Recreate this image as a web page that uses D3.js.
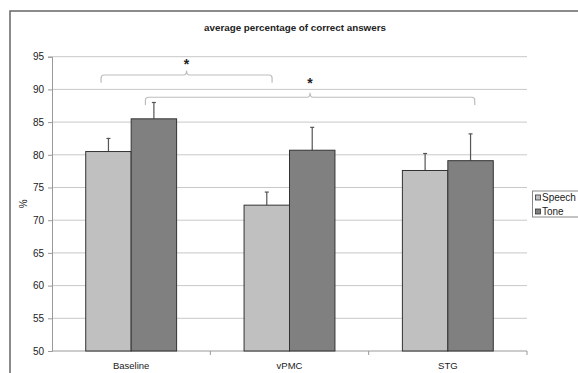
<!DOCTYPE html>
<html>
<head>
<meta charset="utf-8">
<script src="https://cdn.jsdelivr.net/npm/d3@7"></script>
<style>
    body { margin: 0; background: #fff; }
    svg text { font-family: Arial, "Liberation Sans", sans-serif; fill: #222; }
</style>
</head>
<body>
<script>
(function(){

    //chart data
    var categories = ["Baseline", "vPMC", "STG"];
    var seriesNames = ["Speech", "Tone"];
    var speechValues = [80.5, 72.3, 77.6];
    var speechErrTop = [82.5, 74.3, 80.2];
    var toneValues = [85.5, 80.7, 79.1];
    var toneErrTop = [88.0, 84.2, 83.2];
    var yTicks = [50, 55, 60, 65, 70, 75, 80, 85, 90, 95];

    //significance brackets: start/end in category units, bar level, tip level
    var bracketFrom = [-0.19, 0.09];
    var bracketTo = [0.89, 2.17];
    var bracketLevel = [92.2, 88.8];
    var bracketEnd = [91.0, 87.6];
    var starLevel = [94.0, 91.2];

    var colors = { "Speech": "#c0c0c0", "Tone": "#808080" };

    window.onload = setChart();

    function setChart(){
        var width = 578, height = 373;

        var svg = d3.select("body")
            .append("svg")
            .attr("width", width)
            .attr("height", height);

        //outer chart frame (cut off at right and bottom)
        svg.append("rect")
            .attr("x", 10)
            .attr("y", 11)
            .attr("width", 620)
            .attr("height", 420)
            .attr("fill", "none")
            .attr("stroke", "#666")
            .attr("stroke-width", 1.5);

        //title
        svg.append("text")
            .attr("x", 295)
            .attr("y", 31)
            .attr("text-anchor", "middle")
            .style("font-size", "9.8px")
            .style("font-weight", "bold")
            .text("average percentage of correct answers");

        var plotLeft = 52, plotRight = 527, plotTop = 56.7, plotBottom = 351;

        var y = d3.scaleLinear()
            .domain([50, 95])
            .range([plotBottom, plotTop]);

        var x0 = d3.scaleBand()
            .domain(categories)
            .range([plotLeft, plotRight]);

        var bw = x0.bandwidth();
        var x1 = d3.scaleBand()
            .domain(seriesNames)
            .range([bw * 0.213, bw * 0.787]);

        //category index scale for annotations
        var xi = d3.scaleLinear()
            .domain([0, 1])
            .range([x0(categories[0]) + bw / 2, x0(categories[1]) + bw / 2]);

        //gridlines
        svg.append("g")
            .selectAll("line")
            .data(yTicks.slice(1))
            .enter()
            .append("line")
            .attr("x1", plotLeft)
            .attr("x2", plotRight)
            .attr("y1", function(d){ return y(d); })
            .attr("y2", function(d){ return y(d); })
            .attr("stroke", "#c8c8c8")
            .attr("stroke-width", 1);

        //y axis
        var yAxis = svg.append("g")
            .attr("transform", "translate(" + plotLeft + ",0)")
            .call(d3.axisLeft(y).tickValues(yTicks).tickSize(4).tickPadding(4));
        yAxis.select(".domain").attr("stroke", "#999");
        yAxis.selectAll(".tick line").attr("stroke", "#999");
        yAxis.selectAll("text")
            .style("font-size", "10px")
            .attr("fill", "#222");

        //y axis title
        svg.append("text")
            .attr("transform", "translate(27," + ((plotTop + plotBottom) / 2) + ") rotate(-90)")
            .attr("text-anchor", "middle")
            .style("font-size", "10px")
            .text("%");

        //x axis line and category ticks
        svg.append("line")
            .attr("x1", plotLeft)
            .attr("x2", plotRight)
            .attr("y1", plotBottom)
            .attr("y2", plotBottom)
            .attr("stroke", "#999");

        svg.append("g")
            .selectAll("line")
            .data(categories.slice(1).concat(["end"]))
            .enter()
            .append("line")
            .attr("x1", function(d, i){ return plotLeft + bw * (i + 1); })
            .attr("x2", function(d, i){ return plotLeft + bw * (i + 1); })
            .attr("y1", plotBottom)
            .attr("y2", plotBottom + 4)
            .attr("stroke", "#999");

        svg.append("g")
            .selectAll("text")
            .data(categories)
            .enter()
            .append("text")
            .attr("x", function(d){ return x0(d) + bw / 2; })
            .attr("y", 369)
            .attr("text-anchor", "middle")
            .style("font-size", "9.5px")
            .text(function(d){ return d; });

        //build bar records
        var bars = [];
        categories.forEach(function(c, i){
            bars.push({ cat: c, series: "Speech", value: speechValues[i], err: speechErrTop[i] });
            bars.push({ cat: c, series: "Tone", value: toneValues[i], err: toneErrTop[i] });
        });

        //error bars (upper only)
        var errs = svg.append("g")
            .selectAll("g")
            .data(bars)
            .enter()
            .append("g");

        errs.append("line")
            .attr("x1", function(d){ return x0(d.cat) + x1(d.series) + x1.bandwidth() / 2; })
            .attr("x2", function(d){ return x0(d.cat) + x1(d.series) + x1.bandwidth() / 2; })
            .attr("y1", function(d){ return y(d.value); })
            .attr("y2", function(d){ return y(d.err); })
            .attr("stroke", "#555")
            .attr("stroke-width", 1.2);

        errs.append("line")
            .attr("x1", function(d){ return x0(d.cat) + x1(d.series) + x1.bandwidth() / 2 - 2; })
            .attr("x2", function(d){ return x0(d.cat) + x1(d.series) + x1.bandwidth() / 2 + 2; })
            .attr("y1", function(d){ return y(d.err); })
            .attr("y2", function(d){ return y(d.err); })
            .attr("stroke", "#555")
            .attr("stroke-width", 1.2);

        //bars
        svg.append("g")
            .selectAll("rect")
            .data(bars)
            .enter()
            .append("rect")
            .attr("x", function(d){ return x0(d.cat) + x1(d.series); })
            .attr("y", function(d){ return y(d.value); })
            .attr("width", x1.bandwidth())
            .attr("height", function(d){ return y(50) - y(d.value); })
            .attr("fill", function(d){ return colors[d.series]; })
            .attr("stroke", "#333")
            .attr("stroke-width", 1);

        //significance brackets
        bracketFrom.forEach(function(f, i){
            var xa = xi(f), xb = xi(bracketTo[i]), xm = (xa + xb) / 2;
            var yl = y(bracketLevel[i]), ye = y(bracketEnd[i]);
            var p = d3.path();
            p.moveTo(xa, ye);
            p.lineTo(xa, yl + 3);
            p.quadraticCurveTo(xa, yl, xa + 3, yl);
            p.lineTo(xm - 3, yl);
            p.quadraticCurveTo(xm, yl, xm, yl - 4.5);
            p.quadraticCurveTo(xm, yl, xm + 3, yl);
            p.lineTo(xb - 3, yl);
            p.quadraticCurveTo(xb, yl, xb, yl + 3);
            p.lineTo(xb, ye);

            svg.append("path")
                .attr("d", p.toString())
                .attr("fill", "none")
                .attr("stroke", "#bdbdbd")
                .attr("stroke-width", 1.2);

            svg.append("text")
                .attr("x", xm)
                .attr("y", y(starLevel[i]) + 6)
                .attr("text-anchor", "middle")
                .style("font-size", "14px")
                .style("font-weight", "bold")
                .text("*");
        });

        //legend
        var legend = svg.append("g");
        legend.append("rect")
            .attr("x", 532.5)
            .attr("y", 191)
            .attr("width", 80)
            .attr("height", 26)
            .attr("fill", "#fff")
            .attr("stroke", "#888");

        var items = legend.selectAll("g.item")
            .data(seriesNames)
            .enter()
            .append("g")
            .attr("class", "item")
            .attr("transform", function(d, i){ return "translate(0," + (197.5 + i * 14) + ")"; });

        items.append("rect")
            .attr("x", 535.5)
            .attr("y", -2.5)
            .attr("width", 5)
            .attr("height", 5)
            .attr("fill", function(d){ return colors[d]; })
            .attr("stroke", "#333")
            .attr("stroke-width", 0.8);

        items.append("text")
            .attr("x", 542)
            .attr("y", 3.5)
            .style("font-size", "10px")
            .text(function(d){ return d; });
    };

})();
</script>
</body>
</html>
